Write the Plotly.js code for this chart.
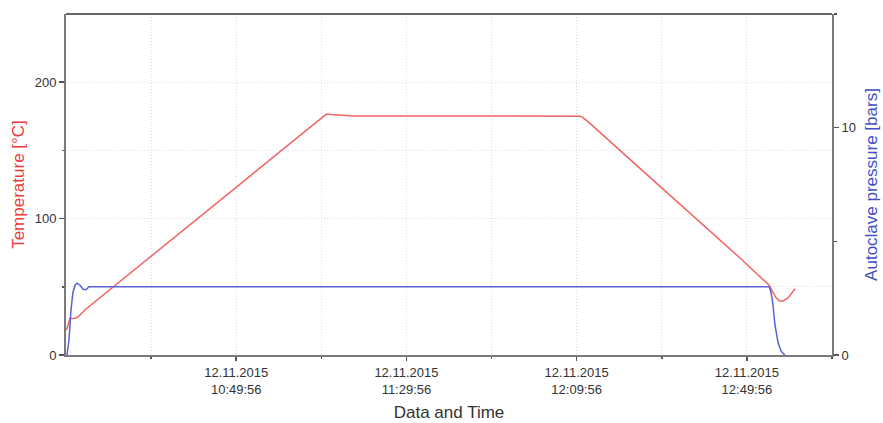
<!DOCTYPE html>
<html>
<head>
<meta charset="utf-8">
<script src="https://cdn.plot.ly/plotly-3.0.1.min.js"></script>
<style>
  html, body { margin: 0; padding: 0; background: #fff; }
  #chart { width: 883px; height: 423px; }
</style>
</head>
<body>
<div id="chart"></div>
<script>
// Autoclave cure cycle, 12.11.2015
const runDate = '2015-11-12';

// Temperature log (time of day, °C)
const tempTimes = [
  '10:10:02', '10:10:24', '10:10:52', '10:11:34', '10:12:17', '10:12:59',
  '10:13:42', '10:14:38', '11:10:05', '11:11:09', '11:12:12', '11:17:22',
  '11:40:10', '12:10:43', '12:11:25', '12:12:36', '12:29:31', '12:46:40',
  '12:47:36', '12:48:19', '12:55:07', '12:55:50', '12:56:46', '12:57:36',
  '12:58:25', '12:59:36', '13:01:14'
];
const tempValues = [
  18.3, 22.0, 26.7, 26.7, 27.1, 28.6,
  30.8, 33.7, 174.0, 176.6, 176.3, 175.3,
  175.2, 175.1, 174.0, 171.1, 123.6, 75.5,
  73.6, 71.1, 51.3, 47.6, 42.1, 39.6,
  39.6, 41.8, 48.6
];

// Autoclave pressure log (time of day, bar)
const presTimes = [
  '10:10:10', '10:10:38', '10:11:06', '10:11:34', '10:12:03', '10:12:31',
  '10:13:13', '10:13:56', '10:14:38', '10:15:20', '12:55:12', '12:55:36',
  '12:56:04', '12:56:32', '12:57:14', '12:57:56', '12:58:50'
];
const presValues = [
  0.0, 0.66, 1.97, 2.76, 3.07, 3.16,
  3.07, 2.89, 2.87, 3.0, 3.0, 2.76,
  2.19, 1.32, 0.57, 0.18, 0.0
];

// Axis ticks
const xRange = ['10:09:56', '13:09:56'];
const xTickTimes = ['10:49:56', '11:29:56', '12:09:56', '12:49:56'];
const xMinorTimes = ['10:29:56', '11:09:56', '11:49:56', '12:29:56', '13:09:56'];
const tempTicks = [0, 100, 200];
const tempMinorTicks = [50, 150];
const presTicks = [0, 10];
const presMinorTicks = [5, 15];

const stamp = t => runDate + ' ' + t;
const dayLabel = runDate.split('-').reverse().join('.');

const tickFont = { family: 'Liberation Sans, Arial, sans-serif', size: 13, color: '#333' };
const gridColor = '#dcdcdc';
const gridDash = '1px,2px';
const axisLine = '#7a7a7a';

const traces = [
  {
    x: tempTimes.map(stamp),
    y: tempValues,
    type: 'scatter',
    mode: 'lines',
    name: 'Temperature',
    line: { color: '#f26464', width: 1.5 },
    yaxis: 'y'
  },
  {
    x: presTimes.map(stamp),
    y: presValues,
    type: 'scatter',
    mode: 'lines',
    name: 'Autoclave pressure',
    line: { color: '#5a62d2', width: 1.5 },
    yaxis: 'y2'
  }
];

const layout = {
  width: 883,
  height: 423,
  margin: { l: 66, r: 51, t: 14, b: 68 },
  paper_bgcolor: '#fff',
  plot_bgcolor: '#fff',
  showlegend: false,
  font: tickFont,
  xaxis: {
    type: 'date',
    range: xRange.map(stamp),
    tickmode: 'array',
    tickvals: xTickTimes.map(stamp),
    ticktext: xTickTimes.map(t => dayLabel + '<br>' + t),
    ticks: 'outside',
    ticklen: 4,
    tickwidth: 1.5,
    tickcolor: '#555',
    tickfont: tickFont,
    showline: true,
    linecolor: axisLine,
    linewidth: 2,
    showgrid: true,
    gridcolor: gridColor,
    griddash: gridDash,
    gridwidth: 1,
    zeroline: false,
    minor: {
      tickmode: 'array',
      tickvals: xMinorTimes.map(stamp),
      ticks: 'outside',
      ticklen: 2,
      tickcolor: '#555',
      showgrid: true,
      gridcolor: gridColor,
      griddash: gridDash
    },
    title: {
      text: 'Data and Time',
      font: { family: 'Liberation Sans, Arial, sans-serif', size: 17, color: '#333' },
      standoff: 11
    }
  },
  yaxis: {
    range: [0, 250],
    tickmode: 'array',
    tickvals: tempTicks,
    ticks: 'outside',
    ticklen: 5,
    tickwidth: 1.5,
    tickcolor: '#555',
    tickfont: tickFont,
    showline: true,
    linecolor: axisLine,
    linewidth: 2,
    showgrid: true,
    gridcolor: gridColor,
    griddash: gridDash,
    zeroline: false,
    minor: {
      tickmode: 'array',
      tickvals: tempMinorTicks,
      ticks: 'outside',
      ticklen: 2,
      tickcolor: '#555',
      showgrid: true,
      gridcolor: gridColor,
      griddash: gridDash
    },
    title: {
      text: 'Temperature [°C]',
      font: { family: 'Liberation Sans, Arial, sans-serif', size: 17, color: '#ee3a3a' },
      standoff: 6
    }
  },
  yaxis2: {
    range: [0, 15],
    overlaying: 'y',
    side: 'right',
    tickmode: 'array',
    tickvals: presTicks,
    ticks: 'outside',
    ticklen: 5,
    tickwidth: 1.5,
    tickcolor: '#555',
    tickfont: tickFont,
    showline: true,
    linecolor: axisLine,
    linewidth: 2,
    showgrid: false,
    zeroline: false,
    minor: {
      tickmode: 'array',
      tickvals: presMinorTicks,
      ticks: 'outside',
      ticklen: 3,
      tickcolor: '#555',
      showgrid: false
    },
    title: {
      text: 'Autoclave pressure [bars]',
      font: { family: 'Liberation Sans, Arial, sans-serif', size: 17, color: '#3f4fc4' },
      standoff: 10
    }
  },
  shapes: [
    {
      type: 'line', xref: 'paper', yref: 'paper',
      x0: 0, x1: 1, y0: 1, y1: 1,
      line: { color: '#333', width: 1.5 }
    }
  ]
};

Plotly.newPlot('chart', traces, layout, { staticPlot: true, displayModeBar: false });
</script>
</body>
</html>
